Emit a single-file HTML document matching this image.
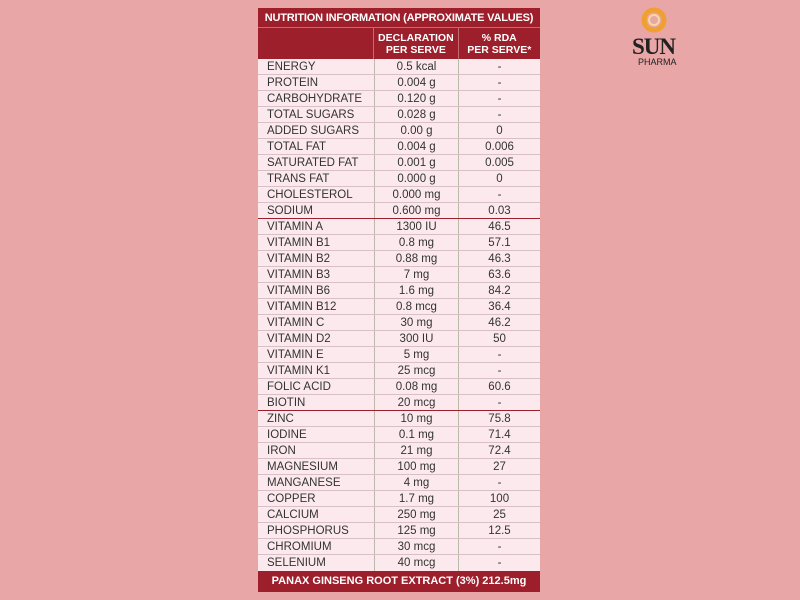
<!DOCTYPE html>
<html><head><style>
body{margin:0;width:800px;height:600px;background:#e9a6a6;position:relative;overflow:hidden;font-family:"Liberation Sans",sans-serif;}
.t{position:absolute;left:258px;top:8px;width:282px;background:#fce9ee;}
.h1{height:20px;background:#9c1f2b;color:#fff;font-weight:bold;font-size:11px;line-height:20px;text-align:center;white-space:nowrap;letter-spacing:-0.2px;border-bottom:1px solid #c46a72;box-sizing:border-box}
.h2{height:31px;background:#9c1f2b;color:#fff;font-weight:bold;font-size:10.5px;display:flex;}
.h2 div{display:flex;align-items:center;justify-content:center;text-align:center;line-height:12px;border-left:1px solid #c46a72}
.r{display:flex;height:16px;font-size:11.5px;line-height:16px;color:#333;border-bottom:1px solid #d8c0c6;box-sizing:border-box}
.r.sep{border-bottom:1px solid #9c1f2b}
.c1{width:116px;padding-left:9px;box-sizing:border-box}
.c2{width:84px;text-align:center;border-left:1px solid #bba;box-sizing:border-box}
.c3{width:82px;text-align:center;border-left:1px solid #bba;box-sizing:border-box}
.f{height:21px;background:#9c1f2b;color:#fff;font-weight:bold;font-size:11px;line-height:21px;text-align:center;white-space:nowrap}
</style></head><body>
<div class="t">
<div class="h1">NUTRITION INFORMATION (APPROXIMATE VALUES)</div>
<div class="h2"><div style="width:116px;border:none"></div><div style="width:84px">DECLARATION<br>PER SERVE</div><div style="width:82px">% RDA<br>PER SERVE*</div></div>
<div class="r"><div class="c1">ENERGY</div><div class="c2">0.5 kcal</div><div class="c3">-</div></div>
<div class="r"><div class="c1">PROTEIN</div><div class="c2">0.004 g</div><div class="c3">-</div></div>
<div class="r"><div class="c1">CARBOHYDRATE</div><div class="c2">0.120 g</div><div class="c3">-</div></div>
<div class="r"><div class="c1">TOTAL SUGARS</div><div class="c2">0.028 g</div><div class="c3">-</div></div>
<div class="r"><div class="c1">ADDED SUGARS</div><div class="c2">0.00 g</div><div class="c3">0</div></div>
<div class="r"><div class="c1">TOTAL FAT</div><div class="c2">0.004 g</div><div class="c3">0.006</div></div>
<div class="r"><div class="c1">SATURATED FAT</div><div class="c2">0.001 g</div><div class="c3">0.005</div></div>
<div class="r"><div class="c1">TRANS FAT</div><div class="c2">0.000 g</div><div class="c3">0</div></div>
<div class="r"><div class="c1">CHOLESTEROL</div><div class="c2">0.000 mg</div><div class="c3">-</div></div>
<div class="r sep"><div class="c1">SODIUM</div><div class="c2">0.600 mg</div><div class="c3">0.03</div></div>
<div class="r"><div class="c1">VITAMIN A</div><div class="c2">1300 IU</div><div class="c3">46.5</div></div>
<div class="r"><div class="c1">VITAMIN B1</div><div class="c2">0.8 mg</div><div class="c3">57.1</div></div>
<div class="r"><div class="c1">VITAMIN B2</div><div class="c2">0.88 mg</div><div class="c3">46.3</div></div>
<div class="r"><div class="c1">VITAMIN B3</div><div class="c2">7 mg</div><div class="c3">63.6</div></div>
<div class="r"><div class="c1">VITAMIN B6</div><div class="c2">1.6 mg</div><div class="c3">84.2</div></div>
<div class="r"><div class="c1">VITAMIN B12</div><div class="c2">0.8 mcg</div><div class="c3">36.4</div></div>
<div class="r"><div class="c1">VITAMIN C</div><div class="c2">30 mg</div><div class="c3">46.2</div></div>
<div class="r"><div class="c1">VITAMIN D2</div><div class="c2">300 IU</div><div class="c3">50</div></div>
<div class="r"><div class="c1">VITAMIN E</div><div class="c2">5 mg</div><div class="c3">-</div></div>
<div class="r"><div class="c1">VITAMIN K1</div><div class="c2">25 mcg</div><div class="c3">-</div></div>
<div class="r"><div class="c1">FOLIC ACID</div><div class="c2">0.08 mg</div><div class="c3">60.6</div></div>
<div class="r sep"><div class="c1">BIOTIN</div><div class="c2">20 mcg</div><div class="c3">-</div></div>
<div class="r"><div class="c1">ZINC</div><div class="c2">10 mg</div><div class="c3">75.8</div></div>
<div class="r"><div class="c1">IODINE</div><div class="c2">0.1 mg</div><div class="c3">71.4</div></div>
<div class="r"><div class="c1">IRON</div><div class="c2">21 mg</div><div class="c3">72.4</div></div>
<div class="r"><div class="c1">MAGNESIUM</div><div class="c2">100 mg</div><div class="c3">27</div></div>
<div class="r"><div class="c1">MANGANESE</div><div class="c2">4 mg</div><div class="c3">-</div></div>
<div class="r"><div class="c1">COPPER</div><div class="c2">1.7 mg</div><div class="c3">100</div></div>
<div class="r"><div class="c1">CALCIUM</div><div class="c2">250 mg</div><div class="c3">25</div></div>
<div class="r"><div class="c1">PHOSPHORUS</div><div class="c2">125 mg</div><div class="c3">12.5</div></div>
<div class="r"><div class="c1">CHROMIUM</div><div class="c2">30 mcg</div><div class="c3">-</div></div>
<div class="r" style="border:none"><div class="c1">SELENIUM</div><div class="c2">40 mcg</div><div class="c3">-</div></div>
<div class="f">PANAX GINSENG ROOT EXTRACT (3%) 212.5mg</div>
</div>
<svg style="position:absolute;left:640px;top:6px" width="28" height="28"><circle cx="14" cy="14" r="10" fill="none" stroke="#f0a030" stroke-width="5"/><circle cx="14" cy="14" r="5" fill="none" stroke="#f8d8a0" stroke-width="2"/></svg>
<div style="position:absolute;left:632px;top:34px;font-family:'Liberation Serif',serif;font-size:23px;font-weight:bold;color:#222;letter-spacing:-1px">SUN</div>
<div style="position:absolute;left:638px;top:57px;font-size:9px;color:#222">PHARMA</div>
</body></html>
